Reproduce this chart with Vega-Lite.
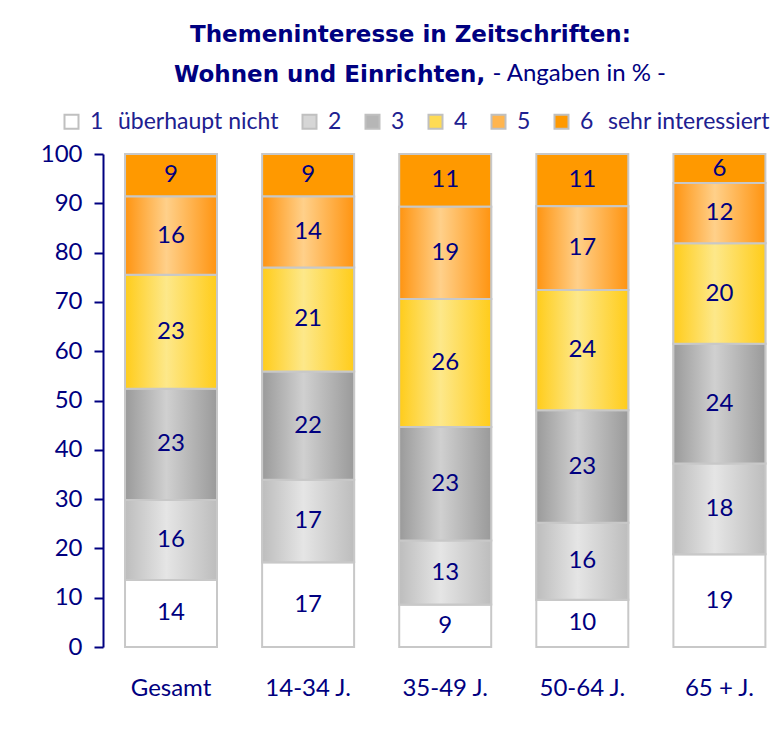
{
  "$schema": "https://vega.github.io/schema/vega-lite/v6.json",
  "width": 673,
  "height": 493,
  "autosize": {"type": "none"},
  "padding": {"left": 103, "top": 154, "right": 0, "bottom": 82},
  "background": "white",
  "config": {"view": {"stroke": null}, "font": "Lato"},
  "title": {
    "text": ["\u200b\u00a0\u00a0Themeninteresse in Zeitschriften:", "Wohnen und Einrichten,"],
    "anchor": "start",
    "align": "left",
    "frame": "group",
    "dx": 71,
    "font": "DejaVu Sans",
    "fontSize": 23,
    "fontWeight": "bold",
    "color": "#000080",
    "lineHeight": 40,
    "offset": -26,
    "limit": 0
  },
  "data": {
    "values": [
      {"group": "Gesamt", "level": "1\u00a0\u00a0\u2009überhaupt nicht", "pct": 13.6},
      {"group": "Gesamt", "level": "2", "pct": 16.2},
      {"group": "Gesamt", "level": "3", "pct": 22.6},
      {"group": "Gesamt", "level": "4", "pct": 23.1},
      {"group": "Gesamt", "level": "5", "pct": 15.9},
      {"group": "Gesamt", "level": "6\u00a0\u00a0\u2009sehr interessiert", "pct": 8.6},
      {"group": "14-34 J.", "level": "1\u00a0\u00a0\u2009überhaupt nicht", "pct": 17.2},
      {"group": "14-34 J.", "level": "2", "pct": 16.7},
      {"group": "14-34 J.", "level": "3", "pct": 22.0},
      {"group": "14-34 J.", "level": "4", "pct": 21.1},
      {"group": "14-34 J.", "level": "5", "pct": 14.4},
      {"group": "14-34 J.", "level": "6\u00a0\u00a0\u2009sehr interessiert", "pct": 8.6},
      {"group": "35-49 J.", "level": "1\u00a0\u00a0\u2009überhaupt nicht", "pct": 8.6},
      {"group": "35-49 J.", "level": "2", "pct": 13.0},
      {"group": "35-49 J.", "level": "3", "pct": 23.0},
      {"group": "35-49 J.", "level": "4", "pct": 26.0},
      {"group": "35-49 J.", "level": "5", "pct": 18.7},
      {"group": "35-49 J.", "level": "6\u00a0\u00a0\u2009sehr interessiert", "pct": 10.7},
      {"group": "50-64 J.", "level": "1\u00a0\u00a0\u2009überhaupt nicht", "pct": 9.6},
      {"group": "50-64 J.", "level": "2", "pct": 15.6},
      {"group": "50-64 J.", "level": "3", "pct": 22.8},
      {"group": "50-64 J.", "level": "4", "pct": 24.4},
      {"group": "50-64 J.", "level": "5", "pct": 17.0},
      {"group": "50-64 J.", "level": "6\u00a0\u00a0\u2009sehr interessiert", "pct": 10.6},
      {"group": "65 + J.", "level": "1\u00a0\u00a0\u2009überhaupt nicht", "pct": 18.8},
      {"group": "65 + J.", "level": "2", "pct": 18.4},
      {"group": "65 + J.", "level": "3", "pct": 24.3},
      {"group": "65 + J.", "level": "4", "pct": 20.4},
      {"group": "65 + J.", "level": "5", "pct": 12.2},
      {"group": "65 + J.", "level": "6\u00a0\u00a0\u2009sehr interessiert", "pct": 5.9}
    ]
  },
  "transform": [
    {"stack": "pct", "groupby": ["group"], "sort": [{"field": "level"}], "as": ["y0", "y1"]}
  ],
  "encoding": {
    "x": {
      "field": "group",
      "type": "nominal",
      "sort": null,
      "scale": {"paddingInner": 0.329, "paddingOuter": 0.119, "align": 0.675},
      "axis": {
        "title": null,
        "domain": false,
        "ticks": false,
        "labelAngle": 0,
        "labelFont": "Lato",
        "labelFontSize": 24,
        "labelColor": "#000080",
        "labelPadding": 29
      }
    }
  },
  "layer": [
    {
      "mark": {"type": "bar", "stroke": "#c8c8c8", "strokeWidth": 2},
      "encoding": {
        "y": {
          "field": "y0",
          "type": "quantitative",
          "scale": {"domain": [0, 100], "nice": false},
          "axis": {
            "title": "- Angaben in % -",
            "titleAngle": 0,
            "titleX": 389,
            "titleY": -81,
            "titleAlign": "left",
            "titleBaseline": "middle",
            "titleFont": "Lato",
            "titleFontSize": 24,
            "titleFontWeight": "normal",
            "titleColor": "#000080",
            "grid": false,
            "values": [0, 10, 20, 30, 40, 50, 60, 70, 80, 90, 100],
            "domainColor": "#000080",
            "domainWidth": 2,
            "tickColor": "#000080",
            "tickWidth": 2,
            "tickSize": 9,
            "labelFont": "Lato",
            "labelFontSize": 24,
            "labelColor": "#000080",
            "labelPadding": 12
          }
        },
        "y2": {"field": "y1"},
        "color": {
          "field": "level",
          "type": "nominal",
          "scale": {
            "domain": ["1\u00a0\u00a0\u2009überhaupt nicht", "2", "3", "4", "5", "6\u00a0\u00a0\u2009sehr interessiert"],
            "range": ["#ffffff", "#d6d6d6", "#b6b6b6", "#fedb55", "#ffb54e", "#ff9900"]
          },
          "legend": {
            "title": null,
            "orient": "none",
            "direction": "horizontal",
            "legendX": -43,
            "legendY": -44,
            "symbolType": "square",
            "symbolSize": 196,
            "symbolStrokeColor": "#c0c0c0",
            "symbolStrokeWidth": 2,
            "symbolOpacity": 1,
            "labelFont": "Lato",
            "labelFontSize": 23,
            "labelColor": "#202090",
            "labelOffset": 7,
            "labelLimit": 400,
            "columnPadding": 19
          }
        }
      }
    },
    {
      "transform": [{"filter": "datum.level === '2'"}],
      "mark": {"type": "bar", "stroke": "#c8c8c8", "strokeWidth": 2,
        "color": {"gradient": "linear", "x1": 0, "y1": 0, "x2": 1, "y2": 0, "stops": [{"offset": 0, "color": "#bdbdbd"}, {"offset": 0.45, "color": "#e5e5e5"}, {"offset": 1, "color": "#bdbdbd"}]}},
      "encoding": {"y": {"field": "y0", "type": "quantitative"}, "y2": {"field": "y1"}}
    },
    {
      "transform": [{"filter": "datum.level === '3'"}],
      "mark": {"type": "bar", "stroke": "#c8c8c8", "strokeWidth": 2,
        "color": {"gradient": "linear", "x1": 0, "y1": 0, "x2": 1, "y2": 0, "stops": [{"offset": 0, "color": "#9a9a9a"}, {"offset": 0.45, "color": "#d0d0d0"}, {"offset": 1, "color": "#9a9a9a"}]}},
      "encoding": {"y": {"field": "y0", "type": "quantitative"}, "y2": {"field": "y1"}}
    },
    {
      "transform": [{"filter": "datum.level === '4'"}],
      "mark": {"type": "bar", "stroke": "#c8c8c8", "strokeWidth": 2,
        "color": {"gradient": "linear", "x1": 0, "y1": 0, "x2": 1, "y2": 0, "stops": [{"offset": 0, "color": "#ffcc1a"}, {"offset": 0.45, "color": "#fde88a"}, {"offset": 1, "color": "#ffcc1a"}]}},
      "encoding": {"y": {"field": "y0", "type": "quantitative"}, "y2": {"field": "y1"}}
    },
    {
      "transform": [{"filter": "datum.level === '5'"}],
      "mark": {"type": "bar", "stroke": "#c8c8c8", "strokeWidth": 2,
        "color": {"gradient": "linear", "x1": 0, "y1": 0, "x2": 1, "y2": 0, "stops": [{"offset": 0, "color": "#ff9410"}, {"offset": 0.45, "color": "#ffd08a"}, {"offset": 1, "color": "#ff9410"}]}},
      "encoding": {"y": {"field": "y0", "type": "quantitative"}, "y2": {"field": "y1"}}
    },
    {
      "transform": [
        {"fold": ["y0", "y1"], "as": ["edge", "pos"]},
        {"aggregate": [{"op": "mean", "field": "pos", "as": "mid"}, {"op": "min", "field": "pct", "as": "val"}], "groupby": ["group", "level"]}
      ],
      "mark": {"type": "text", "font": "Lato", "fontSize": 24, "color": "#000080", "baseline": "middle", "align": "center"},
      "encoding": {
        "y": {"field": "mid", "type": "quantitative"},
        "text": {"field": "val", "type": "quantitative", "format": ".0f"}
      }
    }
  ]
}
